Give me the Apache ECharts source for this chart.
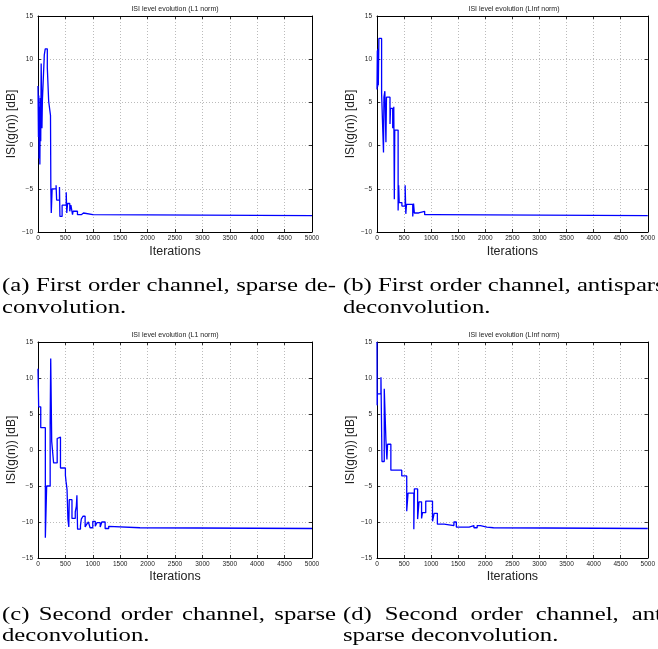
<!DOCTYPE html>
<html>
<head>
<meta charset="utf-8">
<script src="https://cdn.jsdelivr.net/npm/echarts@6/dist/echarts.min.js"></script>
<style>
html, body { margin: 0; padding: 0; background: #fff; }
#chart { width: 658px; height: 649px; }
</style>
</head>
<body>
<div id="chart"></div>
<script>
// tick values / labels
var xTicks = [0, 500, 1000, 1500, 2000, 2500, 3000, 3500, 4000, 4500, 5000];
var yTicksTop = [-10, -5, 0, 5, 10, 15];
var yTicksBottom = [-15, -10, -5, 0, 5, 10, 15];

var titles = ['ISI level evolution (L1 norm)', 'ISI level evolution (LInf norm)',
              'ISI level evolution (L1 norm)', 'ISI level evolution (LInf norm)'];

// [iteration, ISI dB], value holds until next iteration (staircase)
var stepsA = [[0,6.9],[8,1.0],[14,5.8],[20,-1.5],[26,4.5],[34,-2.2],[42,5.5],[50,0.5],[58,9.5],[72,2.0],
  [80,5.2],[115,10.5],[132,11.2],[170,9.0],[195,5.1],[228,3.5],[234,-4.6],[242,-7.8],[258,-5.0],[330,-4.6],
  [340,-6.3],[392,-4.8],[400,-8.2],[440,-6.9],[515,-5.4],[525,-7.8],[540,-6.7],[580,-7.6],[600,-6.9],
  [630,-8.0],[640,-7.6],[720,-8.0],[790,-7.8],[830,-8.0],[1000,-8.1],[5000,-8.1]];

var stepsB = [[0,6.5],[6,11.0],[12,6.8],[18,11.2],[24,7.0],[35,12.4],[85,6.0],[120,-0.8],[128,5.6],
  [145,6.3],[165,0.4],[175,5.6],[240,2.5],[250,4.3],[290,2.0],[310,4.5],[320,-6.2],[328,1.8],[390,-7.5],
  [400,-4.6],[410,-6.6],[460,-7.0],[520,-4.6],[532,-7.9],[545,-6.8],[660,-8.2],[675,-6.7],[690,-7.8],
  [770,-7.6],[880,-8.0],[1050,-8.1],[5000,-8.1]];

var stepsC = [[0,11.3],[12,6.0],[50,3.1],[134,-12.2],[158,-5.0],[222,4.0],[232,12.7],[250,1.2],[270,1.0],
  [285,-1.8],[350,1.6],[360,1.8],[410,-2.5],[500,-3.5],[512,-4.4],[530,-5.5],[546,-9.6],[562,-10.7],
  [570,-6.9],[620,-9.5],[680,-8.6],[700,-7.8],[710,-6.3],[722,-11.0],[775,-10.5],[790,-9.6],[820,-9.2],
  [860,-10.7],[890,-10.3],[920,-10.0],[950,-10.8],[1000,-9.9],[1045,-10.6],[1075,-10.1],[1135,-10.7],
  [1165,-10.0],[1225,-10.9],[1290,-10.6],[1320,-10.8],[1860,-10.9],[5000,-10.9]];

var stepsD = [[0,15],[3,6.2],[8,7.8],[73,10.1],[92,-1.6],[134,8.5],[165,1.3],[183,-1.3],[195,0.8],
  [256,-2.8],[457,-3.6],[549,-8.5],[573,-6.0],[680,-11.0],[690,-5.4],[750,-9.6],[775,-7.2],[823,-9.5],
  [840,-8.7],[900,-7.1],[1025,-9.9],[1055,-8.8],[1115,-10.3],[1240,-10.5],[1420,-10.0],[1465,-10.7],
  [1700,-10.5],[1790,-10.8],[1850,-10.5],[1910,-10.7],[2030,-10.8],[2150,-10.9],[5000,-10.9]];

var captions = [
  {x: 2,   y: 291,   text: '(a) First order channel, sparse de-', width: 334},
  {x: 2,   y: 312.5, text: 'convolution.'},
  {x: 343, y: 291,   text: '(b) First order channel, antisparse'},
  {x: 343, y: 312.5, text: 'deconvolution.'},
  {x: 2,   y: 620,   text: '(c) Second order channel, sparse', width: 334},
  {x: 2,   y: 641,   text: 'deconvolution.'},
  {x: 343, y: 620,   text: '(d) Second order channel, anti-', width: 334},
  {x: 343, y: 641,   text: 'sparse deconvolution.'}
];

var grids = [
  {left: 38,  top: 16,  width: 274, height: 216},
  {left: 377, top: 16,  width: 274, height: 216},
  {left: 38,  top: 342, width: 274, height: 216},
  {left: 377, top: 342, width: 274, height: 216}
];

var sans = 'Liberation Sans';
var capFont = 19, capScale = 1.3;

function minus(v) { return String(v).replace('-', '\u2212'); }

var xAxes = [], yAxes = [], series = [], titleList = [];
var allSteps = [stepsA, stepsB, stepsC, stepsD];

grids.forEach(function (g, i) {
  var yt = i < 2 ? yTicksTop : yTicksBottom;
  ['bottom', 'top'].forEach(function (pos) {
    var main = pos === 'bottom';
    xAxes.push({
      gridIndex: i, type: 'value', position: pos, min: 0, max: 5000, interval: 500,
      axisLine: {show: true, onZero: false, lineStyle: {color: '#000', width: 1}},
      axisTick: {show: true, inside: true, length: 3, lineStyle: {color: '#000', width: 0.8}},
      axisLabel: main ? {show: true, margin: 3, fontSize: 6.5, fontFamily: sans, color: '#222',
        formatter: function (v) { return xTicks.indexOf(v) >= 0 ? String(v) : ''; }} : {show: false},
      splitLine: {show: main, lineStyle: {type: [1, 2], color: '#aaa', width: 0.8}},
      name: main ? 'Iterations' : '', nameLocation: 'middle', nameGap: i < 2 ? 13.5 : 12,
      nameTextStyle: {fontSize: 12.5, fontFamily: sans, color: '#222'}
    });
  });
  ['left', 'right'].forEach(function (pos) {
    var main = pos === 'left';
    yAxes.push({
      gridIndex: i, type: 'value', position: pos, min: yt[0], max: yt[yt.length - 1], interval: 5,
      axisLine: {show: true, onZero: false, lineStyle: {color: '#000', width: 1}},
      axisTick: {show: true, inside: true, length: 3, lineStyle: {color: '#000', width: 0.8}},
      axisLabel: main ? {show: true, margin: 5, fontSize: 6.5, fontFamily: sans, color: '#222',
        formatter: function (v) { return yt.indexOf(v) >= 0 ? minus(v) : ''; }} : {show: false},
      splitLine: {show: main, lineStyle: {type: [1, 2], color: '#aaa', width: 0.8}},
      name: main ? 'ISI(g(n)) [dB]' : '', nameLocation: 'middle', nameGap: 15,
      nameTextStyle: {fontSize: 12, fontFamily: sans, color: '#222'}
    });
  });
  series.push({
    type: 'line', xAxisIndex: i * 2, yAxisIndex: i * 2, data: allSteps[i], step: 'end',
    showSymbol: false, symbol: 'none', clip: true,
    lineStyle: {color: '#0000ff', width: 1.3}
  });
  titleList.push({
    text: titles[i], left: g.left + g.width / 2, top: g.top - 10.5, textAlign: 'center', padding: 0,
    textStyle: {fontSize: 7, fontWeight: 'normal', fontFamily: sans, color: '#222'}
  });
});

// caption text, justified where the column is full
var ctx = document.createElement('canvas').getContext('2d');
ctx.font = capFont + 'px "Liberation Serif"';
var graphics = [];
captions.forEach(function (c) {
  var words = c.text.split(' ');
  var ws = words.map(function (w) { return ctx.measureText(w).width * capScale; });
  var total = ws.reduce(function (a, b) { return a + b; }, 0);
  var gap = ctx.measureText(' ').width * capScale;
  if (c.width && words.length > 1) gap = Math.max(gap, (c.width - total) / (words.length - 1));
  var x = c.x;
  words.forEach(function (w, k) {
    graphics.push({
      type: 'text', x: x, y: c.y - 4.5, scaleX: capScale, silent: true,
      style: {text: w, fill: '#000', font: capFont + 'px "Liberation Serif"',
        textAlign: 'left', textVerticalAlign: 'middle', verticalAlign: 'middle'}
    });
    x += ws[k] + gap;
  });
});

var chart = echarts.init(document.getElementById('chart'));
chart.setOption({
  animation: false,
  backgroundColor: '#fff',
  title: titleList,
  grid: grids,
  xAxis: xAxes,
  yAxis: yAxes,
  series: series,
  graphic: graphics
});
</script>
</body>
</html>
